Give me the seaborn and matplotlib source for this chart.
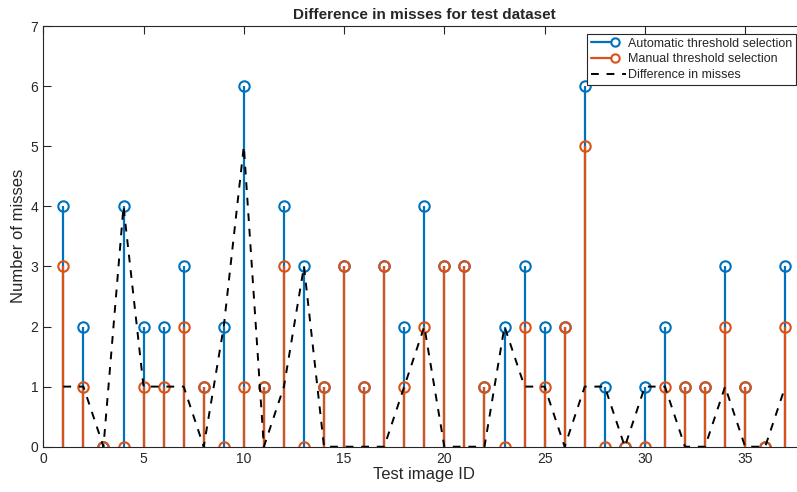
import numpy as np
import matplotlib
matplotlib.use("Agg")
import matplotlib.pyplot as plt
import seaborn as sns
from matplotlib.lines import Line2D
from matplotlib.legend_handler import HandlerBase

image_ids = list(range(1, 38))
auto_misses = [4, 2, 0, 4, 2, 2, 3, 1, 2, 6, 1, 4, 3, 1, 3, 1, 3, 2, 4, 3, 3, 1, 2, 3, 2, 2, 6, 1, 0, 1, 2, 1, 1, 3, 1, 0, 3]
manual_misses = [3, 1, 0, 0, 1, 1, 2, 1, 0, 1, 1, 3, 0, 1, 3, 1, 3, 1, 2, 3, 3, 1, 0, 2, 1, 2, 5, 0, 0, 0, 1, 1, 1, 2, 1, 0, 2]
diff_misses = [1, 1, 0, 4, 1, 1, 1, 0, 2, 5, 0, 1, 3, 0, 0, 0, 0, 1, 2, 0, 0, 0, 2, 1, 1, 0, 1, 1, 0, 1, 1, 0, 0, 1, 0, 0, 1]

blue = "#0072BD"
orange = "#D95319"
axcol = "#262626"


class StemHandler(HandlerBase):
    # matlab style legend entry: line with the circle near the right end
    def create_artists(self, legend, orig, xdescent, ydescent, width, height, fontsize, trans):
        y = (height - ydescent) / 2
        xm = -xdescent + 0.69 * width
        ms = orig.get_markersize()
        line = Line2D([-xdescent, xm - ms / 2], [y, y], color=orig.get_color(),
                      linewidth=orig.get_linewidth(), transform=trans)
        mark = Line2D([xm], [y], marker="o", markersize=ms, markerfacecolor="none",
                      markeredgecolor=orig.get_color(), markeredgewidth=orig.get_markeredgewidth(),
                      linestyle="none", transform=trans)
        return [line, mark]


sns.set_style("ticks")
plt.rcParams["font.family"] = ["Liberation Sans", "DejaVu Sans"]

fig = plt.figure(figsize=(7.97, 4.92), dpi=100)
# axes is wider than the picture: right side is cut off like in the original
ax = fig.add_axes([43.3 / 797, 45.3 / 492, 762 / 797, 420.7 / 492])

for vals, col in [(auto_misses, blue), (manual_misses, orange)]:
    ml, sl, bl = ax.stem(image_ids, vals, basefmt=" ")
    plt.setp(sl, color=col, linewidth=1.6)
    plt.setp(ml, color=col, markerfacecolor="none", markeredgewidth=1.5, markersize=7.5)

sns.lineplot(x=image_ids, y=diff_misses, ax=ax, color="black", linestyle=(0, (4, 4)), linewidth=1.4)

ax.set_xlim(0, 38)
ax.set_ylim(0, 7)
ax.set_xticks(np.arange(0, 40, 5))
ax.set_yticks(range(0, 8))
ax.tick_params(direction="in", top=True, right=True, length=5.5, width=0.8,
               colors=axcol, labelsize=10, labelcolor=axcol)
for s in ax.spines.values():
    s.set_color(axcol)
    s.set_linewidth(0.8)

ax.set_title("Difference in misses for test dataset", fontsize=11, fontweight="bold", pad=5)
ax.set_xlabel("Test image ID", fontsize=12, color=axcol, labelpad=1)
ax.set_ylabel("Number of misses", fontsize=12, color=axcol, labelpad=3)

auto_h = Line2D([], [], color=blue, linewidth=1.6, marker="o", markersize=6, markeredgewidth=1.5)
manual_h = Line2D([], [], color=orange, linewidth=1.6, marker="o", markersize=6, markeredgewidth=1.5)
diff_h = Line2D([], [], color="black", linestyle=(0, (4, 4)), linewidth=1.4)
labels = ["Automatic threshold selection", "Manual threshold selection", "Difference in misses"]
leg = ax.legend([auto_h, manual_h, diff_h], labels, loc="upper right",
                bbox_to_anchor=(796 / 797, 1 - 34 / 492), bbox_transform=fig.transFigure,
                handler_map={auto_h: StemHandler(), manual_h: StemHandler()},
                fontsize=9, handlelength=2.8, handletextpad=0.15, labelspacing=0.3,
                borderpad=0.3, borderaxespad=0, fancybox=False, framealpha=1, edgecolor=axcol)
leg.get_frame().set_linewidth(0.8)

fig.savefig("out.png", dpi=100)
